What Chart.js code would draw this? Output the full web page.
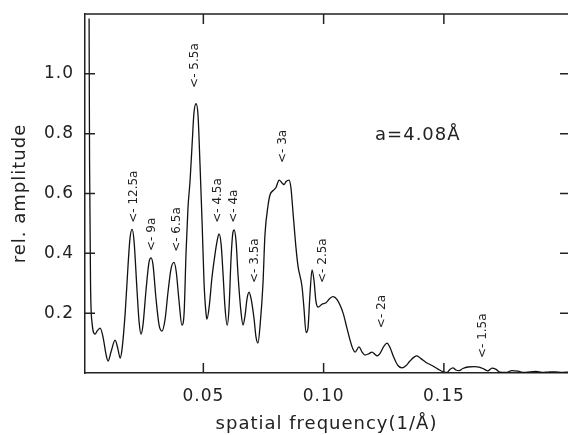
<!DOCTYPE html>
<html>
<head>
<meta charset="utf-8">
<script src="https://cdn.jsdelivr.net/npm/chart.js@4.4.1/dist/chart.umd.min.js"></script>
<style>
  body { margin: 0; background: #fff; }
  #wrap { width: 568px; height: 435px; position: relative; }
</style>
</head>
<body>
<div id="wrap"><canvas id="myChart"></canvas></div>
<script>
// spatial frequency (1/A) and relative amplitude
const freq = [
  0.0025, 0.0027, 0.0031, 0.0037, 0.0050, 0.0058, 0.0071, 0.0083, 0.0096, 0.0104,
  0.0116, 0.0133, 0.0145, 0.0154, 0.0162, 0.0175, 0.0187, 0.0195, 0.0204, 0.0212,
  0.0224, 0.0233, 0.0241, 0.0249, 0.0262, 0.0274, 0.0283, 0.0291, 0.0303, 0.0316,
  0.0328, 0.0341, 0.0353, 0.0366, 0.0378, 0.0387, 0.0399, 0.0411, 0.0420, 0.0428,
  0.0436, 0.0445, 0.0453, 0.0461, 0.0470, 0.0478, 0.0486, 0.0495, 0.0503, 0.0511,
  0.0515, 0.0524, 0.0536, 0.0549, 0.0557, 0.0565, 0.0574, 0.0582, 0.0590, 0.0599,
  0.0607, 0.0615, 0.0623, 0.0628, 0.0636, 0.0644, 0.0657, 0.0665, 0.0673, 0.0682,
  0.0690, 0.0698, 0.0711, 0.0719, 0.0727, 0.0736, 0.0748, 0.0756, 0.0769, 0.0777,
  0.0790, 0.0802, 0.0815, 0.0827, 0.0835, 0.0844, 0.0856, 0.0864, 0.0873, 0.0885,
  0.0894, 0.0910, 0.0918, 0.0927, 0.0935, 0.0943, 0.0952, 0.0960, 0.0968, 0.0977,
  0.0993, 0.1010, 0.1027, 0.1039, 0.1056, 0.1081, 0.1097, 0.1110, 0.1122, 0.1131,
  0.1147, 0.1160, 0.1172, 0.1189, 0.1201, 0.1214, 0.1222, 0.1234, 0.1251, 0.1264,
  0.1276, 0.1293, 0.1309, 0.1326, 0.1342, 0.1359, 0.1376, 0.1388, 0.1405, 0.1426,
  0.1451, 0.1475, 0.1500, 0.1513, 0.1525, 0.1538, 0.1550, 0.1563, 0.1579, 0.1600,
  0.1625, 0.1650, 0.1667, 0.1683, 0.1700, 0.1717, 0.1733, 0.1758, 0.1783, 0.1808,
  0.1833, 0.1858, 0.1883, 0.1908, 0.1933, 0.1962, 0.1991, 0.2016
];
const amp = [
  1.185, 0.70, 0.30, 0.17, 0.13, 0.14, 0.15, 0.12, 0.06, 0.04,
  0.07, 0.11, 0.08, 0.05, 0.08, 0.20, 0.36, 0.45, 0.48, 0.44,
  0.28, 0.17, 0.13, 0.16, 0.28, 0.37, 0.385, 0.36, 0.25, 0.16,
  0.14, 0.18, 0.27, 0.35, 0.37, 0.34, 0.24, 0.16, 0.20, 0.40,
  0.55, 0.645, 0.76, 0.87, 0.90, 0.86, 0.70, 0.50, 0.30, 0.20,
  0.18, 0.22, 0.32, 0.40, 0.44, 0.465, 0.43, 0.33, 0.22, 0.16,
  0.22, 0.38, 0.47, 0.478, 0.44, 0.33, 0.20, 0.16, 0.19, 0.25,
  0.27, 0.25, 0.18, 0.12, 0.10, 0.16, 0.30, 0.46, 0.56, 0.595,
  0.61, 0.62, 0.645, 0.635, 0.63, 0.64, 0.645, 0.62, 0.535, 0.42,
  0.355, 0.29, 0.22, 0.135, 0.15, 0.26, 0.345, 0.31, 0.24, 0.22,
  0.23, 0.235, 0.25, 0.255, 0.245, 0.20, 0.15, 0.11, 0.08, 0.07,
  0.087, 0.07, 0.06, 0.065, 0.07, 0.062, 0.057, 0.065, 0.09, 0.10,
  0.085, 0.05, 0.025, 0.017, 0.024, 0.04, 0.053, 0.057, 0.048, 0.035,
  0.025, 0.013, 0.003, 0.002, 0.012, 0.017, 0.010, 0.008, 0.015, 0.020,
  0.021, 0.019, 0.013, 0.007, 0.016, 0.012, 0.003, 0.002, 0.008, 0.006,
  0.002, 0.004, 0.005, 0.002, 0.003, 0.004, 0.002, 0.003
];

const xTicks = [0.05, 0.10, 0.15];
const yTicks = [0.2, 0.4, 0.6, 0.8, 1.0];

// peak markers: text, frequency and amplitude where the text starts
const peakLabels = ['<- 12.5a', '<- 9a', '<- 6.5a', '<- 5.5a', '<- 4.5a', '<- 4a',
                    '<- 3.5a', '<- 3a', '<- 2.5a', '<- 2a', '<- 1.5a'];
const labelFreq = [0.0212, 0.0287, 0.0391, 0.0466, 0.0561, 0.0628,
                   0.0715, 0.0831, 0.0998, 0.1243, 0.1663];
const labelAmp = [0.502, 0.408, 0.405, 0.953, 0.502, 0.502,
                  0.301, 0.702, 0.301, 0.150, 0.050];

const ink = '#222';
const fontName = '"DejaVu Sans"';

// wider letters like the plotter font of the original
const spacing = {
  id: 'spacing',
  beforeDraw(chart) { chart.ctx.letterSpacing = '1px'; }
};

// inward ticks, top line, peak labels
const frameExtras = {
  id: 'frameExtras',
  afterDatasetsDraw(chart) {
    const {ctx, chartArea: a, scales: {x, y}} = chart;
    ctx.save();
    ctx.strokeStyle = ink;
    ctx.lineWidth = 1.5;
    ctx.beginPath();
    ctx.moveTo(a.left, a.top);
    ctx.lineTo(a.right, a.top);
    yTicks.forEach(v => {
      const py = y.getPixelForValue(v);
      ctx.moveTo(a.left, py); ctx.lineTo(a.left + 10, py);
      ctx.moveTo(a.right - 8, py); ctx.lineTo(a.right, py);
    });
    xTicks.forEach(v => {
      const px = x.getPixelForValue(v);
      ctx.moveTo(px, a.bottom); ctx.lineTo(px, a.bottom - 10);
      ctx.moveTo(px, a.top); ctx.lineTo(px, a.top + 10);
    });
    ctx.stroke();

    ctx.fillStyle = ink;
    ctx.letterSpacing = '0px';
    ctx.font = '12px ' + fontName;
    ctx.textAlign = 'left';
    ctx.textBaseline = 'middle';
    peakLabels.forEach((t, i) => {
      ctx.save();
      ctx.translate(x.getPixelForValue(labelFreq[i]), y.getPixelForValue(labelAmp[i]));
      ctx.rotate(-Math.PI / 2);
      ctx.fillText(t, 0, 0);
      ctx.restore();
    });

    ctx.letterSpacing = '1px';
    ctx.font = '18px ' + fontName;
    ctx.fillText('a=4.08Å', x.getPixelForValue(0.1214), y.getPixelForValue(0.796));
    ctx.restore();
  }
};

const data = {
  datasets: [{
    label: 'rel. amplitude',
    data: freq.map((f, i) => ({x: f, y: amp[i]})),
    borderColor: '#111',
    borderWidth: 1.3,
    pointRadius: 0,
    fill: false,
    cubicInterpolationMode: 'monotone'
  }]
};

const config = {
  type: 'line',
  data: data,
  options: {
    responsive: true,
    maintainAspectRatio: false,
    animation: false,
    layout: {padding: {top: 14, right: 0, bottom: 0, left: 0}},
    plugins: {
      legend: {display: false},
      tooltip: {enabled: false}
    },
    scales: {
      x: {
        type: 'linear',
        min: 0.0008,
        max: 0.2016,
        afterBuildTicks: s => { s.ticks = xTicks.map(v => ({value: v})); },
        afterFit: s => { s.height = 62; },
        grid: {display: false},
        border: {display: true, color: ink, width: 1.5},
        ticks: {
          color: ink,
          padding: 5,
          maxRotation: 0,
          font: {family: fontName, size: 17},
          callback: v => v.toFixed(2)
        },
        title: {
          display: true,
          text: 'spatial frequency(1/Å)',
          color: ink,
          padding: {top: 0, bottom: 0},
          font: {family: fontName, size: 18}
        }
      },
      y: {
        type: 'linear',
        min: 0,
        max: 1.2,
        afterBuildTicks: s => { s.ticks = yTicks.map(v => ({value: v})); },
        afterFit: s => { s.width = 85; },
        grid: {display: false},
        border: {display: true, color: ink, width: 1.5},
        ticks: {
          color: ink,
          padding: 3,
          font: {family: fontName, size: 17},
          callback: v => v.toFixed(1)
        },
        title: {
          display: true,
          text: 'rel. amplitude',
          color: ink,
          padding: {top: 10, bottom: 0},
          font: {family: fontName, size: 18}
        }
      }
    }
  },
  plugins: [spacing, frameExtras]
};

let myChart = new Chart(document.getElementById('myChart'), config);
</script>
</body>
</html>
